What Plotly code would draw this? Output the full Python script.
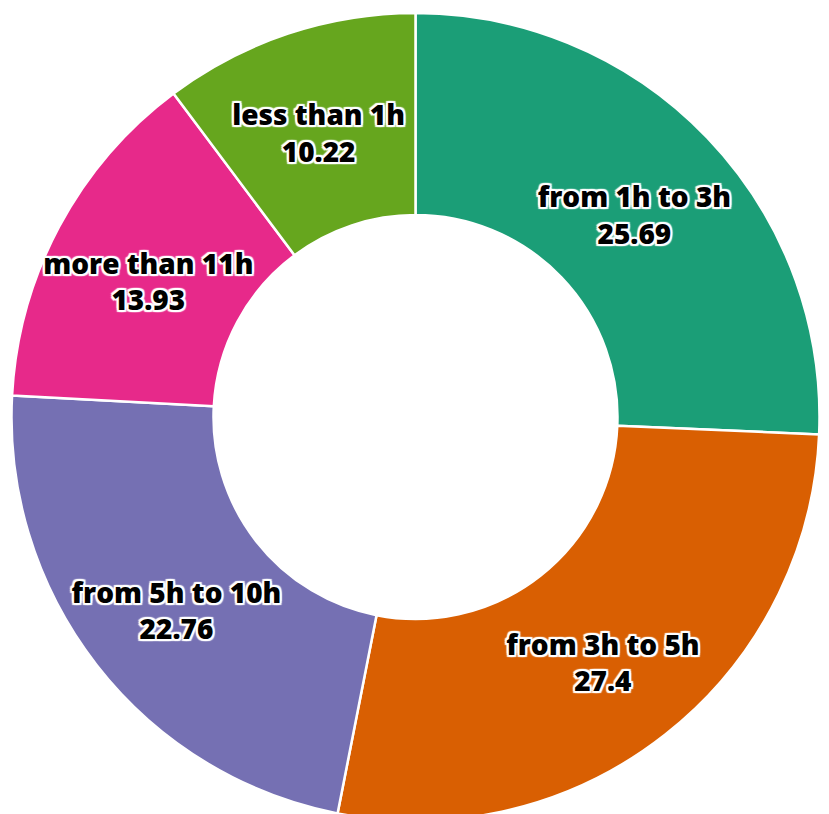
import plotly.graph_objects as go

labels = ["from 1h to 3h", "from 3h to 5h", "from 5h to 10h", "more than 11h", "less than 1h"]
values = [25.69, 27.4, 22.76, 13.93, 10.22]
colors = ["#1b9e77", "#d95f02", "#7570b3", "#e7298a", "#66a61e"]

sh = ", ".join(f"{dx}px {dy}px 1px white" for dx, dy in
               [(2, 0), (-2, 0), (0, 2), (0, -2), (2, 2), (-2, -2), (2, -2), (-2, 2)])

pad = "<span style='font-size:46px'>\u00a0</span>"

fig = go.Figure(go.Pie(
    labels=labels,
    values=values,
    sort=False,
    direction="clockwise",
    rotation=0,
    hole=0.5,
    marker=dict(colors=colors, line=dict(color="white", width=2.5)),
    texttemplate=pad + "%{label}" + pad + "<br>" + pad + "%{value}" + pad,
    textposition="inside",
    insidetextorientation="horizontal",
    textfont=dict(family="Open Sans", size=28, color="black", weight=800, shadow=sh),
    showlegend=False,
))
fig.update_layout(
    width=829, height=814,
    margin=dict(l=0, r=14, t=5, b=1),
    paper_bgcolor="white",
    showlegend=False,
    uniformtext=dict(minsize=28, mode="show"),
)
fig.write_html("out.html")
